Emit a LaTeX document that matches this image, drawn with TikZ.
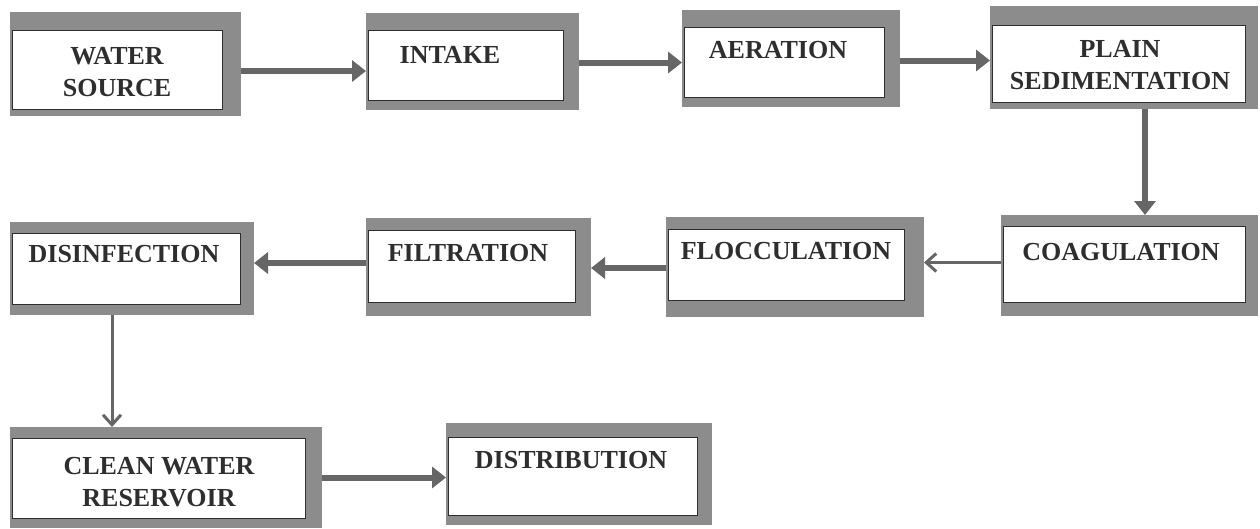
\documentclass[tikz,border=0pt]{standalone}
\usepackage{fontspec}
\setmainfont{Liberation Serif}
\usetikzlibrary{arrows.meta}
\definecolor{framegray}{HTML}{8C8C8C}
\definecolor{arrowgray}{HTML}{666666}
\definecolor{inkgray}{HTML}{2E2E2E}
\tikzset{
  frame/.style={fill=framegray, draw=none, inner sep=0pt, outer sep=0pt, anchor=north west, rectangle},
  innerbox/.style={fill=white, draw=inkgray, line width=1pt, inner sep=0pt, outer sep=0pt, anchor=north west, rectangle},
  lbl/.style={font=\fontsize{26}{32}\selectfont\bfseries, text=inkgray, align=center, inner sep=0pt},
  bigarrow/.style={draw=arrowgray, line width=6pt, -{Triangle[length=14pt,width=21pt]}},
  thinarrow/.style={draw=arrowgray, line width=3pt, -{Straight Barb[length=10pt,width=18pt,line width=3pt]}}
}
% name, x1, y1, x2, y2 (outer frame), inner top, inner bottom, inner right
\newcommand\procbox[8]{%
  \node[frame, minimum width={#4pt-#2pt}, minimum height={#5pt-#3pt}] (#1-f) at (#2,#3) {};
  \node[innerbox, minimum width={#8pt-#2pt-2pt}, minimum height={#7pt-#6pt}] (#1) at ({#2+2},#6) {};
}
\begin{document}
\begin{tikzpicture}[x=1pt,y=-1pt]
\useasboundingbox[fill=white] (0,0) rectangle (1260,528);
% boxes
\procbox{ws}{10}{12}{241}{116}{30}{109}{222}
\procbox{in}{366}{13}{579}{110}{30}{100}{563}
\procbox{ae}{682}{10}{900}{107}{27}{97}{884}
\procbox{ps}{990}{6}{1258}{109}{25}{102}{1245}
\procbox{co}{1001}{215}{1258}{316}{226}{302}{1245}
\procbox{fl}{666}{217}{924}{317}{229}{300}{904}
\procbox{fi}{366}{218}{591}{316}{230}{302}{575}
\procbox{di}{10}{222}{254}{315}{233}{304}{240}
\procbox{cw}{10}{427}{322}{528}{438}{518}{305}
\procbox{ds}{446}{423}{712}{525}{437}{515}{697}
% labels
\node[lbl] (ws-t) at (117,72) {WATER\\SOURCE};
\node[lbl] (in-t) at (450,55) {INTAKE};
\node[lbl] (ae-t) at (778,50) {AERATION};
\node[lbl] (ps-t) at (1120,65) {PLAIN\\SEDIMENTATION};
\node[lbl] (co-t) at (1121,252) {COAGULATION};
\node[lbl] (fl-t) at (786,251) {FLOCCULATION};
\node[lbl] (fi-t) at (468,253) {FILTRATION};
\node[lbl] (di-t) at (124,254) {DISINFECTION};
\node[lbl] (cw-t) at (159,482) {CLEAN WATER\\RESERVOIR};
\node[lbl] (ds-t) at (571,460) {DISTRIBUTION};
% connectors
\draw[bigarrow] ([yshift=-7pt]ws-f.east) -- ([yshift=-7pt]ws-f.east -| in-f.west);
\draw[bigarrow] ([yshift=-1pt]in-f.east) -- ([yshift=-1pt]in-f.east -| ae-f.west);
\draw[bigarrow] ([yshift=-2pt]ae-f.east) -- ([yshift=-2pt]ae-f.east -| ps-f.west);
\draw[bigarrow] ([xshift=21pt]ps-f.south) -- ([xshift=21pt]ps-f.south |- co-f.north);
\draw[thinarrow] ([yshift=3pt]co-f.west) -- ([yshift=3pt]co-f.west -| fl-f.east);
\draw[bigarrow] ([yshift=-1pt]fl-f.west) -- ([yshift=-1pt]fl-f.west -| fi-f.east);
\draw[bigarrow] ([yshift=4pt]fi-f.west) -- ([yshift=4pt]fi-f.west -| di-f.east);
\draw[thinarrow] ([xshift=-20pt]di-f.south) -- ([xshift=-20pt]di-f.south |- cw-f.north);
\draw[bigarrow] ([yshift=0pt]cw-f.east) -- ([yshift=0pt]cw-f.east -| ds-f.west);
\end{tikzpicture}
\end{document}
